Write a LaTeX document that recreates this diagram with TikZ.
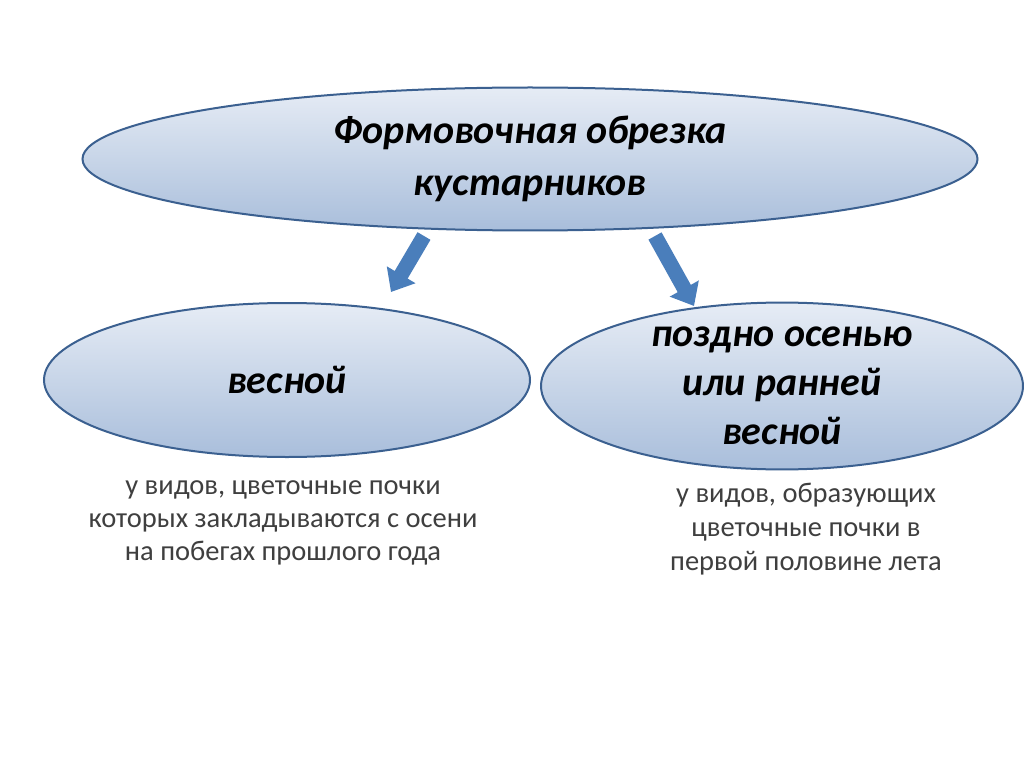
\documentclass[tikz,border=0pt]{standalone}
\usepackage{fontspec}
\setmainfont{Carlito}
\usetikzlibrary{shapes.geometric,arrows.meta}
\definecolor{edgeblue}{HTML}{3B6090}
\definecolor{gtop}{HTML}{E6ECF5}
\definecolor{gbot}{HTML}{A9BEDB}
\definecolor{arrowblue}{HTML}{4A7EBB}
\definecolor{bodygray}{HTML}{3F3F3F}
\tikzset{
  oval/.style={ellipse, draw=edgeblue, line width=2pt, top color=gtop, bottom color=gbot, inner sep=0pt, align=center},
  ovaltext/.style={font=\fontsize{40}{52}\selectfont\bfseries\itshape, text=black},
  blockarrow/.style={draw=arrowblue, line width=15pt, -{Triangle[width=32pt,length=20pt]}},
  bodytext/.style={align=center, text=bodygray, font=\fontsize{28.5}{33}\selectfont}
}
\begin{document}
\begin{tikzpicture}[x=1pt,y=-1pt]
\useasboundingbox (0,0) rectangle (1024,767);
\fill[white] (0,0) rectangle (1024,767);
\node[oval, minimum width=895pt, minimum height=143pt, ovaltext] (top) at (530,159) {Формовочная обрезка\\кустарников};
\node[oval, minimum width=486pt, minimum height=154pt, ovaltext] (left) at (287,380) {весной};
\node[oval, minimum width=482pt, minimum height=156pt, ovaltext, font=\fontsize{40}{49}\selectfont\bfseries\itshape] (right) at (782,386) {поздно осенью\\или ранней\\весной};
\coordinate (a1s) at (424,236);
\coordinate (a1e) at (391,292);
\coordinate (a2s) at (655,236);
\coordinate (a2e) at (694,306);
\draw[blockarrow] (a1s) -- (a1e);
\draw[blockarrow] (a2s) -- (a2e);
\node[bodytext] (ltext) at (283,523) {у видов, цветочные почки\\которых закладываются с осени\\на побегах прошлого года};
\node[bodytext, font=\fontsize{28.5}{34}\selectfont] (rtext) at (806,529) {у видов, образующих\\цветочные почки в\\первой половине лета};
\end{tikzpicture}
\end{document}
